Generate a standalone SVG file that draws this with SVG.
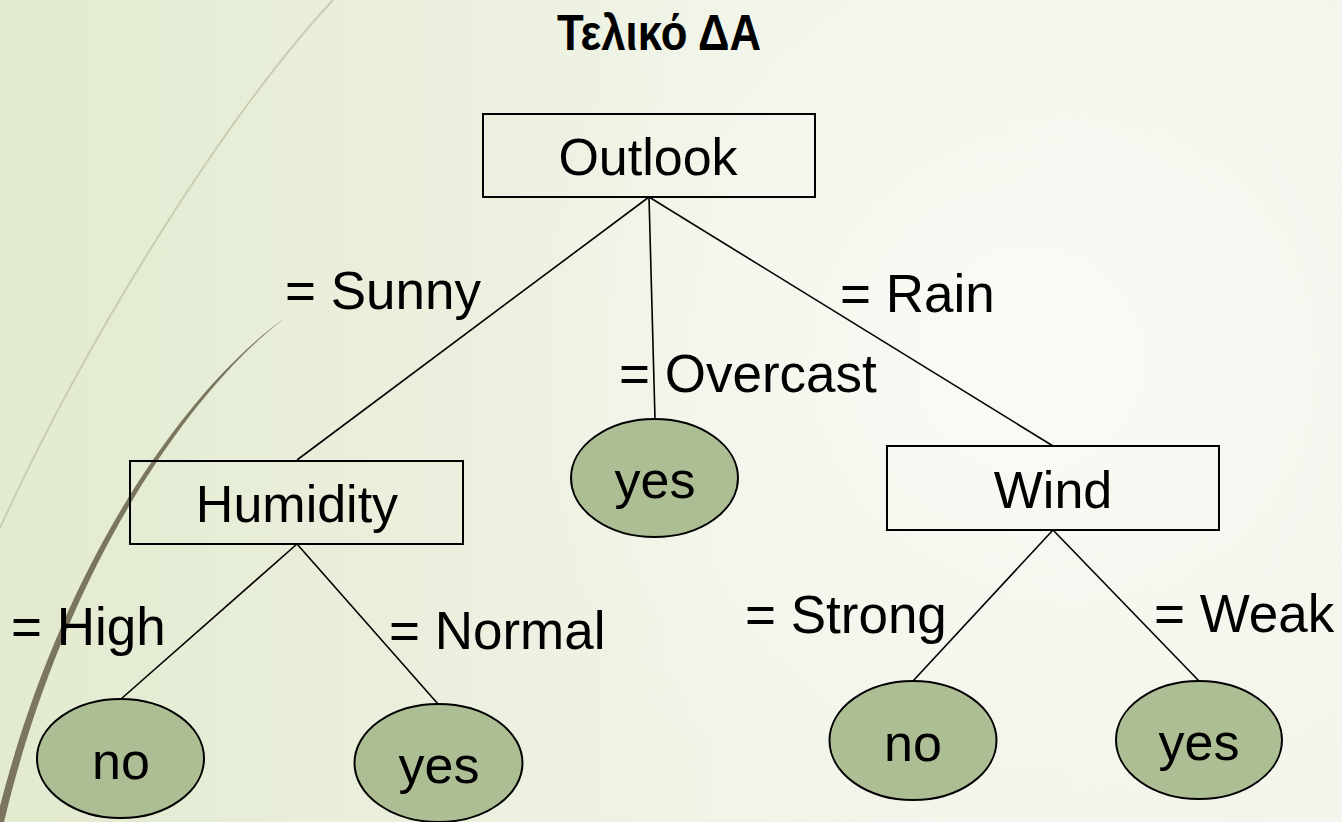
<svg xmlns="http://www.w3.org/2000/svg" width="1342" height="822" viewBox="0 0 1342 822">
  <defs>
    <linearGradient id="bg" x1="0" y1="0" x2="1" y2="0">
      <stop offset="0" stop-color="#e2eacf"/>
      <stop offset="0.55" stop-color="#f1f4e8"/>
      <stop offset="1" stop-color="#f3f5ec"/>
    </linearGradient>
    <radialGradient id="glow" cx="1030" cy="360" r="520" gradientUnits="userSpaceOnUse">
      <stop offset="0" stop-color="#fafbf6" stop-opacity="0.9"/>
      <stop offset="1" stop-color="#fafbf6" stop-opacity="0"/>
    </radialGradient>
    <style>
      .box { fill: none; stroke: #000; stroke-width: 2; }
      .leaf { fill: #adbe94; stroke: #000; stroke-width: 2; }
      .lbl { font-family: "Liberation Sans", Arial, sans-serif; font-size: 52px; fill: #000; }
      .edge-lbl { font-size: 53px; }
      .mid { text-anchor: middle; }
      .edge { stroke: #000; stroke-width: 1.6; fill: none; }
    </style>
  </defs>

  <!-- background -->
  <rect x="0" y="0" width="1342" height="822" fill="url(#bg)"/>
  <rect x="0" y="0" width="1342" height="822" fill="url(#glow)"/>

  <!-- decorative arcs -->
  <path d="M333,0 C235,105 95,320 0,528" fill="none" stroke="#c9cdb2" stroke-width="2"/>
  <path d="M285,318 C190,385 60,560 -4,822 L4,822 C66,562 194,387 285,318 Z" fill="#7b7560"/>

  <!-- title -->
  <text x="659" y="50" text-anchor="middle" textLength="204" lengthAdjust="spacingAndGlyphs"
        font-family="'Liberation Sans', Arial, sans-serif" font-size="50" font-weight="bold">Τελικό ΔΑ</text>

  <!-- connectors -->
  <g id="connectors">
    <line class="edge" x1="649" y1="197" x2="297" y2="460"/>
    <line class="edge" x1="649" y1="197" x2="655" y2="419"/>
    <line class="edge" x1="649" y1="197" x2="1053" y2="446"/>
    <line class="edge" x1="297" y1="544" x2="121" y2="699"/>
    <line class="edge" x1="297" y1="544" x2="438" y2="704"/>
    <line class="edge" x1="1053" y1="530" x2="913" y2="681"/>
    <line class="edge" x1="1053" y1="530" x2="1199" y2="681"/>
  </g>

  <!-- edge labels -->
  <g id="edge-labels">
    <text class="lbl edge-lbl" x="285" y="309">= Sunny</text>
    <text class="lbl edge-lbl" x="619" y="392">= Overcast</text>
    <text class="lbl edge-lbl" x="840" y="312">= Rain</text>
    <text class="lbl edge-lbl" x="11" y="645">= High</text>
    <text class="lbl edge-lbl" x="389" y="649">= Normal</text>
    <text class="lbl edge-lbl" x="745" y="633">= Strong</text>
    <text class="lbl edge-lbl" x="1154" y="632">= Weak</text>
  </g>

  <!-- nodes -->
  <g id="node-outlook">
    <rect class="box" x="483" y="114" width="332" height="83"/>
    <text class="lbl mid" x="648" y="175">Outlook</text>
  </g>
  <g id="node-humidity">
    <rect class="box" x="130" y="461" width="333" height="83"/>
    <text class="lbl mid" x="297" y="522">Humidity</text>
  </g>
  <g id="node-wind">
    <rect class="box" x="887" y="446" width="332" height="84"/>
    <text class="lbl mid" x="1053" y="508">Wind</text>
  </g>
  <g id="leaf-overcast-yes">
    <ellipse class="leaf" cx="654.5" cy="478" rx="83.5" ry="59"/>
    <text class="lbl mid" x="655" y="498">yes</text>
  </g>
  <g id="leaf-high-no">
    <ellipse class="leaf" cx="120.5" cy="758.5" rx="83.5" ry="59.5"/>
    <text class="lbl mid" x="121" y="779">no</text>
  </g>
  <g id="leaf-normal-yes">
    <ellipse class="leaf" cx="438.5" cy="763" rx="84" ry="59"/>
    <text class="lbl mid" x="439" y="783">yes</text>
  </g>
  <g id="leaf-strong-no">
    <ellipse class="leaf" cx="913" cy="740.5" rx="83.5" ry="59.5"/>
    <text class="lbl mid" x="913" y="761">no</text>
  </g>
  <g id="leaf-weak-yes">
    <ellipse class="leaf" cx="1199" cy="740" rx="83" ry="59"/>
    <text class="lbl mid" x="1199" y="760">yes</text>
  </g>
</svg>
